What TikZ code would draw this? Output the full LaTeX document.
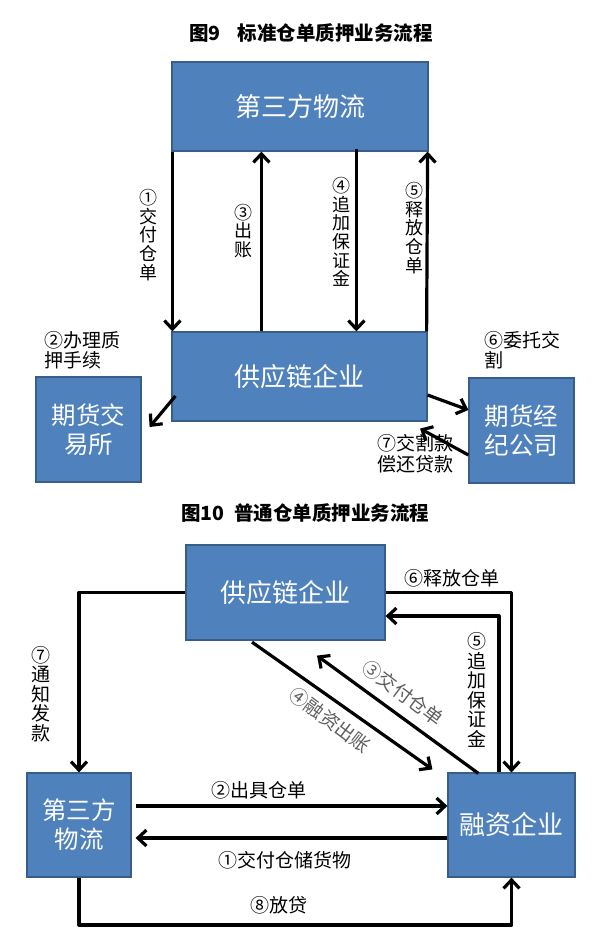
\documentclass[tikz,border=0pt]{standalone}
\usepackage{fontspec}
\setmainfont{Noto Sans CJK SC}
\usetikzlibrary{arrows.meta}
\definecolor{boxfill}{RGB}{79,129,189}
\definecolor{boxline}{RGB}{56,93,138}
\definecolor{diaglbl}{RGB}{95,95,95}
\begin{document}
\begin{tikzpicture}[x=1pt,y=-1pt,
  box/.style={draw=boxline, line width=1.2pt, fill=boxfill, text=white, inner sep=0pt, align=center},
  bigtxt/.style={font=\fontsize{26}{31}\selectfont},
  midtxt/.style={font=\fontsize{24.5}{29}\selectfont},
  ttl/.style={font=\fontsize{19.5}{22}\selectfont\bfseries, inner sep=0pt},
  lbl/.style={font=\fontsize{19}{20.5}\selectfont, inner sep=0pt, align=left},
  vlbl/.style={font=\fontsize{18}{18.6}\selectfont, inner sep=0pt, align=center},
  vlblb/.style={font=\fontsize{19}{19.6}\selectfont, inner sep=0pt, align=center},
  dlbl/.style={font=\fontsize{19}{20}\selectfont, inner sep=0pt, text=diaglbl},
  arr/.style={line width=3.2pt, line join=round, -{Straight Barb[length=8.5pt,width=16pt]}},
]
\fill[white] (0,0) rectangle (592,941);
\path[use as bounding box] (0,0) rectangle (592,941);

% ---------- Figure 9 ----------
\node[ttl] (t1) at (311,33) {图9\hspace{0.9em}标准仓单质押业务流程};

\node[box,bigtxt,minimum width=256pt,minimum height=89pt] (A) at (300,106.5) {第三方物流};
\node[box,bigtxt,minimum width=255pt,minimum height=89pt] (B) at (299.5,376.5) {供应链企业};
\node[box,midtxt,minimum width=105pt,minimum height=105pt] (C) at (88.5,429.5) {期货交\\易所};
\node[box,midtxt,minimum width=105pt,minimum height=105pt] (D) at (521.5,430.5) {期货经\\纪公司};

\draw[arr] ([xshift=1pt]A.south west) -- ([xshift=1pt]B.north west);
\draw[arr] ([xshift=90pt]B.north west) -- ([xshift=90pt]A.south west);
\draw[arr] ([shift={(185,-3)}]A.south west) -- ([xshift=185pt]B.north west);
\draw[arr] ([xshift=-1pt]B.north east) -- ([xshift=-1pt]A.south east);

\node[vlbl] (l1) at (148,235) {①\\交\\付\\仓\\单};
\node[vlbl] (l3) at (243,231) {③\\出\\账};
\node[vlbl] (l4) at (341,232) {④\\追\\加\\保\\证\\金};
\node[vlbl] (l5) at (414,228) {⑤\\释\\放\\仓\\单};

\draw[arr] ([shift={(4,19.5)}]B.west) -- ([shift={(8,-2.5)}]C.east);
\draw[arr] ([shift={(0,18.5)}]B.east) -- ([shift={(0,-20.5)}]D.west);
\draw[arr] ([shift={(0,24.5)}]D.west) -- ([shift={(-7.5,7)}]B.south east);

\node[lbl,anchor=west] (l2) at (44,350) {②办理质\\押手续};
\node[lbl,anchor=west] (l6) at (484,350) {⑥委托交\\割};
\node[lbl,anchor=west] (l7) at (377,453.5) {⑦交割款\\偿还贷款};

% ---------- Figure 10 ----------
\node[ttl] (t2) at (305,513) {图10\hspace{0.5em}普通仓单质押业务流程};

\node[box,bigtxt,minimum width=199pt,minimum height=95pt] (E) at (285.5,592.5) {供应链企业};
\node[box,midtxt,minimum width=104pt,minimum height=104pt] (F) at (79,825) {第三方\\物流};
\node[box,bigtxt,minimum width=127pt,minimum height=104pt] (G) at (511.5,825) {融资企业};

\draw[arr] (E.west) -| (F.north);
\draw[arr] (E.east) -| (G.north);
\draw[arr] ([xshift=-12.5pt]G.north) |- ([shift={(0,23.5)}]E.east);
\draw[arr] ([shift={(-33.5,1.5)}]E.south) -- ([shift={(-15,-3)}]G.north west);
\draw[arr] ([shift={(31,1)}]G.north west) -- ([shift={(31.5,15)}]E.south);
\draw[arr] ([shift={(4,-19)}]F.east) -- ([shift={(0,-19)}]G.west);
\draw[arr] ([shift={(0,13)}]G.west) -- ([shift={(4,13)}]F.east);
\coordinate (b8) at (79,925);
\draw[arr] (F.south) -- (b8) -| (G.south);

\node[vlblb] (m7) at (41,694) {⑦\\通\\知\\发\\款};
\node[lbl] (m6) at (452,578) {⑥释放仓单};
\node[vlblb] (m5) at (477,690) {⑤\\追\\加\\保\\证\\金};
\node[dlbl,rotate=-37] (m4) at (330,720) {④融资出账};
\node[dlbl,rotate=-37] (m3) at (403,693) {③交付仓单};
\node[lbl] (m2) at (259,790) {②出具仓单};
\node[lbl] (m1) at (285,860) {①交付仓储货物};
\node[lbl] (m8) at (279,905) {⑧放贷};
\end{tikzpicture}
\end{document}
